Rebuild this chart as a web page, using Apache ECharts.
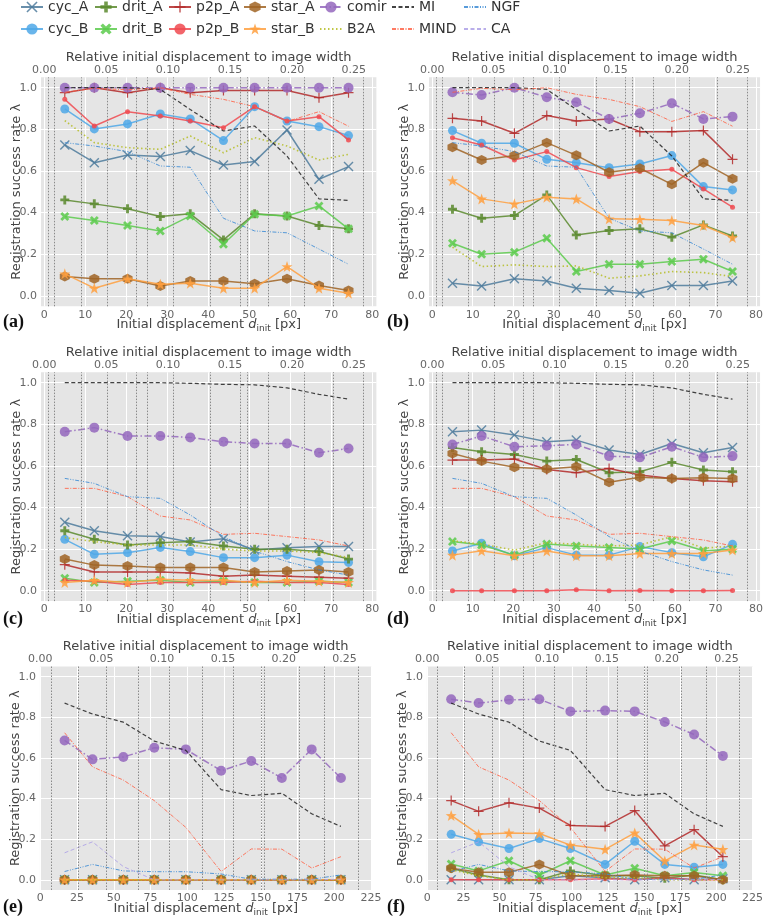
<!DOCTYPE html>
<html><head><meta charset="utf-8">
<script src="https://cdn.jsdelivr.net/npm/echarts@6/dist/echarts.min.js"></script>
<style>html,body{margin:0;padding:0;background:#fff}#c{width:766px;height:918px}</style>
</head><body><div id="c"></div>
<script>
// ---------- x positions / ticks ----------
const xsAD = [5.0, 12.2, 20.3, 28.3, 35.6, 43.7, 51.3, 59.2, 67.0, 74.2];
const xsEF = [16.5, 35.5, 56.5, 77.5, 99.0, 123.0, 143.5, 164.3, 184.6, 204.5];
const edgesAD = [1.0, 2.4, 9.0, 15.3, 22.5, 25.0, 31.4, 40.5, 47.8, 49.4, 54.7, 63.5, 70.5, 77.8];
const edgesEF = [7.2, 25.5, 44.7, 66.5, 87.5, 110, 131.5, 150, 152.5, 176, 193, 216];
const xTicksAD = [0, 10, 20, 30, 40, 50, 60, 70, 80];
const xTicksEF = [0, 25, 50, 75, 100, 125, 150, 175, 200, 225];
const relTicks = [0, 0.05, 0.1, 0.15, 0.2, 0.25];
const yTicks = [0, 0.2, 0.4, 0.6, 0.8, 1.0];
const seriesNames = ['cyc_A','cyc_B','drit_A','drit_B','p2p_A','p2p_B','star_A','star_B','comir','B2A','MI','MIND','NGF','CA'];

// ---------- panel (a) ----------
const a_cycA  = [0.725, 0.640, 0.677, 0.669, 0.698, 0.629, 0.645, 0.797, 0.560, 0.621];
const a_cycB  = [0.898, 0.802, 0.826, 0.874, 0.850, 0.746, 0.909, 0.840, 0.813, 0.770];
const a_dritA = [0.461, 0.442, 0.419, 0.381, 0.394, 0.269, 0.394, 0.384, 0.338, 0.322];
const a_dritB = [0.381, 0.362, 0.338, 0.312, 0.384, 0.248, 0.392, 0.384, 0.432, 0.322];
const a_p2pA  = [0.976, 1.000, 0.976, 1.000, 0.976, 0.987, 0.987, 0.987, 0.952, 0.976];
const a_p2pB  = [0.944, 0.816, 0.885, 0.864, 0.840, 0.808, 0.909, 0.840, 0.861, 0.749];
const a_starA = [0.093, 0.082, 0.082, 0.048, 0.072, 0.072, 0.058, 0.082, 0.050, 0.026];
const a_starB = [0.106, 0.037, 0.082, 0.056, 0.061, 0.037, 0.037, 0.141, 0.037, 0.013];
const a_comir = [1.0, 1.0, 1.0, 1.0, 1.0, 1.0, 1.0, 1.0, 1.0, 1.0];
const a_B2A   = [0.842, 0.736, 0.712, 0.704, 0.768, 0.688, 0.760, 0.720, 0.653, 0.680];
// ---------- panel (b) ----------
const b_cycA  = [0.061, 0.048, 0.082, 0.072, 0.037, 0.026, 0.013, 0.050, 0.050, 0.072];
const b_cycB  = [0.794, 0.733, 0.733, 0.656, 0.640, 0.616, 0.634, 0.674, 0.525, 0.509];
const b_dritA = [0.416, 0.373, 0.386, 0.485, 0.293, 0.314, 0.322, 0.282, 0.341, 0.288];
const b_dritB = [0.253, 0.200, 0.210, 0.277, 0.117, 0.152, 0.152, 0.165, 0.176, 0.117];
const b_p2pA  = [0.853, 0.840, 0.781, 0.866, 0.840, 0.850, 0.789, 0.789, 0.794, 0.656];
const b_p2pB  = [0.760, 0.725, 0.653, 0.693, 0.616, 0.573, 0.597, 0.608, 0.514, 0.426];
const b_starA = [0.714, 0.653, 0.674, 0.736, 0.675, 0.594, 0.613, 0.536, 0.640, 0.563];
const b_starB = [0.554, 0.466, 0.442, 0.474, 0.466, 0.370, 0.368, 0.362, 0.338, 0.280];
const b_comir = [0.978, 0.965, 1.000, 0.954, 0.930, 0.850, 0.877, 0.925, 0.850, 0.861];
const b_B2A   = [0.234, 0.141, 0.149, 0.141, 0.144, 0.085, 0.096, 0.117, 0.112, 0.093];
// shared by (a) and (b)
const ab_MI   = [1.000, 1.000, 1.000, 0.992, 0.895, 0.792, 0.816, 0.672, 0.466, 0.459];
const ab_MIND = [0.978, 0.997, 0.990, 1.000, 0.968, 0.944, 0.909, 0.838, 0.885, 0.815];
const ab_NGF  = [0.736, 0.720, 0.693, 0.624, 0.618, 0.373, 0.312, 0.303, 0.225, 0.152];
// ---------- panel (c) ----------
const c_cycA  = [0.329, 0.288, 0.264, 0.261, 0.234, 0.250, 0.196, 0.207, 0.212, 0.212];
const c_cycB  = [0.247, 0.175, 0.183, 0.208, 0.188, 0.159, 0.159, 0.171, 0.139, 0.136];
const c_dritA = [0.288, 0.247, 0.220, 0.231, 0.236, 0.215, 0.199, 0.199, 0.188, 0.152];
const c_dritB = [0.060, 0.040, 0.045, 0.050, 0.040, 0.045, 0.040, 0.040, 0.045, 0.040];
const c_p2pA  = [0.125, 0.090, 0.090, 0.090, 0.085, 0.070, 0.075, 0.070, 0.065, 0.060];
const c_p2pB  = [0.050, 0.045, 0.030, 0.040, 0.040, 0.040, 0.045, 0.040, 0.040, 0.030];
const c_starA = [0.152, 0.123, 0.119, 0.111, 0.111, 0.111, 0.090, 0.095, 0.100, 0.090];
const c_starB = [0.040, 0.050, 0.040, 0.055, 0.050, 0.050, 0.040, 0.050, 0.045, 0.040];
const c_comir = [0.764, 0.784, 0.744, 0.744, 0.737, 0.716, 0.708, 0.708, 0.663, 0.684];
const c_B2A   = [0.256, 0.236, 0.220, 0.220, 0.220, 0.200, 0.191, 0.191, 0.183, 0.160];
// ---------- panel (d) ----------
const d_cycA  = [0.764, 0.772, 0.748, 0.716, 0.724, 0.676, 0.655, 0.708, 0.663, 0.688];
const d_cycB  = [0.191, 0.228, 0.168, 0.207, 0.171, 0.171, 0.212, 0.183, 0.163, 0.223];
const d_dritA = [0.688, 0.668, 0.655, 0.623, 0.631, 0.567, 0.572, 0.617, 0.580, 0.572];
const d_dritB = [0.236, 0.220, 0.171, 0.224, 0.215, 0.208, 0.200, 0.239, 0.192, 0.199];
const d_p2pA  = [0.628, 0.628, 0.633, 0.583, 0.567, 0.588, 0.556, 0.540, 0.529, 0.524];
const d_p2pB  = [0.000, 0.000, 0.000, 0.000, 0.005, 0.000, 0.001, 0.000, 0.000, 0.001];
const d_starA = [0.660, 0.623, 0.593, 0.585, 0.596, 0.521, 0.545, 0.540, 0.543, 0.540];
const d_starB = [0.171, 0.192, 0.168, 0.191, 0.168, 0.168, 0.179, 0.179, 0.179, 0.196];
const d_comir = [0.703, 0.744, 0.692, 0.697, 0.703, 0.647, 0.641, 0.692, 0.641, 0.647];
const d_B2A   = [0.240, 0.224, 0.195, 0.231, 0.223, 0.215, 0.220, 0.260, 0.204, 0.215];
// shared by (c) and (d)
const cd_MI   = [1.000, 1.000, 1.000, 1.000, 0.997, 0.992, 0.990, 0.975, 0.944, 0.921];
const cd_MIND = [0.492, 0.492, 0.452, 0.359, 0.340, 0.271, 0.276, 0.260, 0.244, 0.215];
const cd_NGF  = [0.540, 0.516, 0.452, 0.444, 0.364, 0.260, 0.190, 0.140, 0.100, 0.075];
// ---------- panel (e) ----------
const e_zero  = [0, 0, 0, 0, 0, 0, 0, 0, 0, 0];
const e_comir = [0.686, 0.593, 0.605, 0.650, 0.642, 0.537, 0.585, 0.501, 0.642, 0.501];
// ---------- panel (f) ----------
const f_cycA  = [0.000, 0.000, 0.000, 0.000, 0.020, 0.010, 0.000, 0.010, 0.000, 0.005];
const f_cycB  = [0.224, 0.187, 0.154, 0.203, 0.154, 0.076, 0.190, 0.076, 0.062, 0.076];
const f_dritA = [0.057, 0.024, 0.000, 0.000, 0.044, 0.020, 0.020, 0.008, 0.024, 0.000];
const f_dritB = [0.078, 0.044, 0.094, 0.024, 0.094, 0.024, 0.057, 0.020, 0.036, 0.020];
const f_p2pA  = [0.390, 0.337, 0.379, 0.353, 0.268, 0.263, 0.341, 0.167, 0.247, 0.114];
const f_p2pB  = [0.000, 0.000, 0.000, 0.000, 0.000, 0.005, 0.000, 0.010, 0.000, 0.000];
const f_starA = [0.057, 0.037, 0.037, 0.076, 0.020, 0.020, 0.024, 0.020, 0.020, 0.000];
const f_starB = [0.317, 0.224, 0.231, 0.228, 0.171, 0.150, 0.231, 0.093, 0.171, 0.150];
const f_comir = [0.889, 0.870, 0.886, 0.889, 0.829, 0.833, 0.829, 0.777, 0.715, 0.610];
const f_B2A   = [0.050, 0.020, 0.000, 0.000, 0.030, 0.010, 0.010, 0.000, 0.000, 0.000];
// shared by (e) and (f)
const ef_MI   = [0.870, 0.816, 0.776, 0.683, 0.637, 0.444, 0.415, 0.426, 0.325, 0.263];
const ef_MIND = [0.724, 0.556, 0.491, 0.390, 0.258, 0.041, 0.152, 0.151, 0.058, 0.114];
const ef_NGF  = [0.041, 0.076, 0.044, 0.040, 0.040, 0.029, 0.003, 0.003, 0.003, 0.024];
const ef_CA   = [0.133, 0.187, 0.065, 0.000, 0.000, 0.000, 0.000, 0.000, 0.000, 0.003];

// ---------- styles ----------
const SYM_XTHIN = 'path://M0,1L1,0L5,4L9,0L10,1L6,5L10,9L9,10L5,6L1,10L0,9L4,5Z';
const SYM_PLUSTHIN = 'path://M4.4,0H5.6V4.4H10V5.6H5.6V10H4.4V5.6H0V4.4H4.4Z';
const SYM_PLUSFAT = 'path://M3.4,0H6.6V3.4H10V6.6H6.6V10H3.4V6.6H0V3.4H3.4Z';
const SYM_XFAT = 'path://M0,2.2L2.2,0L5,2.8L7.8,0L10,2.2L7.2,5L10,7.8L7.8,10L5,7.2L2.2,10L0,7.8L2.8,5Z';
const SYM_HEX = 'path://M5,0L9.33,2.5L9.33,7.5L5,10L0.67,7.5L0.67,2.5Z';
const SYM_STAR = 'path://M5,0L6.176,3.382L9.755,3.455L6.902,5.618L7.939,9.045L5,7L2.061,9.045L3.098,5.618L0.245,3.455L3.824,3.382Z';
const STY = {
  cyc_A:  {c:'#4d7b9c', sym:SYM_XTHIN,   ss:10, t:'solid', w:1.5},
  cyc_B:  {c:'#4fa8e8', sym:'circle',    ss:9,  t:'solid', w:1.5},
  drit_A: {c:'#5a8a2e', sym:SYM_PLUSFAT, ss:9,  t:'solid', w:1.5},
  drit_B: {c:'#5ccb4c', sym:SYM_XFAT,    ss:9,  t:'solid', w:1.5},
  p2p_A:  {c:'#b32a2a', sym:SYM_PLUSTHIN,ss:10, t:'solid', w:1.5},
  p2p_B:  {c:'#f04a50', sym:'circle',    ss:5,  t:'solid', w:1.5},
  star_A: {c:'#a06424', sym:SYM_HEX,     ss:10, t:'solid', w:1.5},
  star_B: {c:'#ffa040', sym:SYM_STAR,    ss:11, t:'solid', w:1.5},
  comir:  {c:'#9467bd', sym:'circle',    ss:10, t:[7,2.5,1.5,2.5], w:1.5},
  B2A:    {c:'#b5bd25', sym:'none',      ss:0,  t:[1.5,2.5], w:1.6},
  MI:     {c:'#222222', sym:'none',      ss:0,  t:[4,2.5], w:1.2},
  MIND:   {c:'#ff6347', sym:'none',      ss:0,  t:[4,1.5,1,1.5], w:1.0},
  NGF:    {c:'#3a8ad4', sym:'none',      ss:0,  t:[4,1.5,1,1.5,1,1.5], w:1.0},
  CA:     {c:'#ada0e6', sym:'none',      ss:0,  t:[4,2.5], w:1.0}
};

const PANELS = [
  {label:'(a)', lx:3, ly:313, left:41.0, top:77.3, w:335.4, h:229.0, xmin:-0.8, xmax:81, W:302, xs:xsAD, edges:edgesAD, xt:xTicksAD,
   data:{cyc_A:a_cycA, cyc_B:a_cycB, drit_A:a_dritA, drit_B:a_dritB, p2p_A:a_p2pA, p2p_B:a_p2pB, star_A:a_starA, star_B:a_starB, comir:a_comir, B2A:a_B2A, MI:ab_MI, MIND:ab_MIND, NGF:ab_NGF}},
  {label:'(b)', lx:387, ly:313, left:429.0, top:77.3, w:334.1, h:229.0, xmin:-0.8, xmax:81, W:302, xs:xsAD, edges:edgesAD, xt:xTicksAD,
   data:{cyc_A:b_cycA, cyc_B:b_cycB, drit_A:b_dritA, drit_B:b_dritB, p2p_A:b_p2pA, p2p_B:b_p2pB, star_A:b_starA, star_B:b_starB, comir:b_comir, B2A:b_B2A, MI:ab_MI, MIND:ab_MIND, NGF:ab_NGF}},
  {label:'(c)', lx:3, ly:610, left:41.0, top:372.3, w:335.4, h:228.8, xmin:-0.8, xmax:81, W:302, xs:xsAD, edges:edgesAD, xt:xTicksAD,
   data:{cyc_A:c_cycA, cyc_B:c_cycB, drit_A:c_dritA, drit_B:c_dritB, p2p_A:c_p2pA, p2p_B:c_p2pB, star_A:c_starA, star_B:c_starB, comir:c_comir, B2A:c_B2A, MI:cd_MI, MIND:cd_MIND, NGF:cd_NGF}},
  {label:'(d)', lx:387, ly:610, left:429.0, top:372.3, w:334.1, h:228.8, xmin:-0.8, xmax:81, W:302, xs:xsAD, edges:edgesAD, xt:xTicksAD,
   data:{cyc_A:d_cycA, cyc_B:d_cycB, drit_A:d_dritA, drit_B:d_dritB, p2p_A:d_p2pA, p2p_B:d_p2pB, star_A:d_starA, star_B:d_starB, comir:d_comir, B2A:d_B2A, MI:cd_MI, MIND:cd_MIND, NGF:cd_NGF}},
  {label:'(e)', lx:3, ly:898, left:39.9, top:666.5, w:331.6, h:225.5, xmin:-0.3, xmax:225.3, W:828, xs:xsEF, edges:edgesEF, xt:xTicksEF,
   data:{cyc_A:e_zero, cyc_B:e_zero, drit_A:e_zero, drit_B:e_zero, p2p_A:e_zero, p2p_B:e_zero, star_A:e_zero, star_B:e_zero, comir:e_comir, B2A:e_zero, MI:ef_MI, MIND:ef_MIND, NGF:ef_NGF, CA:ef_CA}},
  {label:'(f)', lx:387, ly:898, left:426.9, top:666.5, w:331.6, h:225.5, xmin:-0.3, xmax:225.3, W:828, xs:xsEF, edges:edgesEF, xt:xTicksEF,
   data:{cyc_A:f_cycA, cyc_B:f_cycB, drit_A:f_dritA, drit_B:f_dritB, p2p_A:f_p2pA, p2p_B:f_p2pB, star_A:f_starA, star_B:f_starB, comir:f_comir, B2A:f_B2A, MI:ef_MI, MIND:ef_MIND, NGF:ef_NGF, CA:ef_CA}}
];

const FONT = 'DejaVu Sans';
const grid = [], xAxis = [], yAxis = [], series = [], graphic = [];
PANELS.forEach((p, i) => {
  grid.push({left:p.left, top:p.top, width:p.w, height:p.h, backgroundColor:'#e5e5e5', show:true, borderWidth:0});
  // bottom axis (index 2i)
  xAxis.push({
    type:'value', gridIndex:i, position:'bottom', min:p.xmin, max:p.xmax,
    axisLine:{show:false}, axisTick:{show:false, customValues:p.xt},
    axisLabel:{customValues:p.xt, color:'#666', fontSize:11, fontFamily:FONT, margin:3},
    splitLine:{show:true, lineStyle:{color:'#ffffff', width:1}},
    name:'Initial displacement {d|d}{s|init} [px]', nameLocation:'middle', nameGap:10, nameMoveOverlap:false,
    nameTextStyle:{color:'#444', fontSize:13, fontFamily:FONT, lineHeight:17,
      rich:{d:{fontStyle:'italic', fontSize:13, color:'#444', fontFamily:FONT, lineHeight:17},
            s:{fontSize:9, color:'#444', fontFamily:FONT, lineHeight:10, verticalAlign:'bottom'}}}
  });
  // top axis (index 2i+1)
  xAxis.push({
    type:'value', gridIndex:i, position:'top', min:p.xmin / p.W, max:p.xmax / p.W,
    axisLine:{show:false}, axisTick:{show:false, customValues:relTicks},
    axisLabel:{customValues:relTicks, color:'#666', fontSize:11, fontFamily:FONT, margin:2,
      formatter:(v) => v.toFixed(2)},
    splitLine:{show:false},
    name:'Relative initial displacement to image width', nameLocation:'middle', nameGap:13, nameMoveOverlap:false,
    nameTextStyle:{color:'#444', fontSize:13, fontFamily:FONT}
  });
  yAxis.push({
    type:'value', gridIndex:i, min:-0.05, max:1.05,
    axisLine:{show:false}, axisTick:{show:false, customValues:yTicks},
    axisLabel:{customValues:yTicks, color:'#666', fontSize:11, fontFamily:FONT, margin:4,
      formatter:(v) => v.toFixed(1)},
    splitLine:{show:true, lineStyle:{color:'#ffffff', width:1}},
    name:'Registration success rate \u03bb', nameLocation:'middle', nameGap:18, nameMoveOverlap:false,
    nameTextStyle:{color:'#444', fontSize:13, fontFamily:FONT}
  });
  // dotted bin edges
  series.push({
    type:'line', name:'_edges' + i, xAxisIndex:2 * i, yAxisIndex:i, data:[], silent:true, z:1,
    markLine:{silent:true, symbol:'none', label:{show:false}, animation:false,
      lineStyle:{type:[1.5,1.5], color:'#8a8a8a', width:1},
      data:p.edges.map(v => ({xAxis:v}))}
  });
  seriesNames.forEach((nm, k) => {
    const arr = p.data[nm];
    if (!arr) return;
    const s = STY[nm];
    series.push({
      type:'line', name:nm, xAxisIndex:2 * i, yAxisIndex:i, z:3 + k * 0.01,
      data:p.xs.map((x, j) => [x, arr[j]]),
      symbol:s.sym, symbolSize:s.ss, showSymbol:s.sym !== 'none',
      lineStyle:{color:s.c, width:s.w, type:s.t, opacity:0.85},
      itemStyle:{color:s.c, opacity:0.85},
      emphasis:{disabled:true}, animation:false
    });
  });
  graphic.push({type:'text', left:p.lx, top:p.ly,
    style:{text:p.label, font:'bold 18px "Liberation Serif"', fill:'#111'}});
});

const legendCols = [['cyc_A','cyc_B'],['drit_A','drit_B'],['p2p_A','p2p_B'],['star_A','star_B'],['comir','B2A'],['MI','MIND'],['NGF','CA']];
const legendLefts = [20, 94, 168, 243, 319, 391, 463];
const legend = legendCols.map((d, i) => ({
  data:d.map(nm => STY[nm].sym === 'none'
    ? {name:nm, itemStyle:{opacity:0, color:'rgba(0,0,0,0)', borderWidth:0}}
    : {name:nm}),
  orient:'vertical', left:legendLefts[i], top:0, padding:0, itemWidth:22, itemHeight:14, itemGap:8,
  selectedMode:false, textStyle:{fontSize:14, color:'#333', fontFamily:FONT}
}));

const chart = echarts.init(document.getElementById('c'), null, {renderer:'canvas'});
chart.setOption({backgroundColor:'#ffffff', animation:false, legend, grid, xAxis, yAxis, series, graphic});
</script></body></html>
